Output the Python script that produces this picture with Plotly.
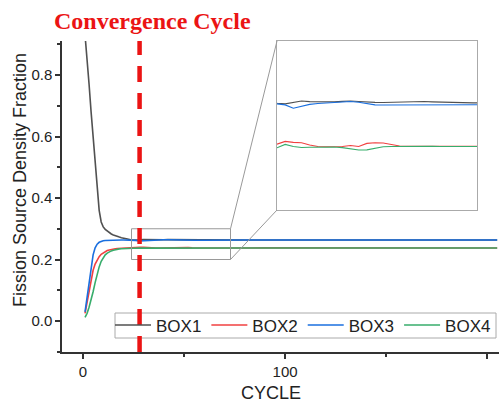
import plotly.graph_objects as go

# ---------------- data ----------------
CYCLES = list(range(1, 21)) + list(range(22, 75, 2)) + list(range(80, 201, 10)) + [205]

BOX1 = [0.93, 0.86, 0.77, 0.68, 0.60, 0.52, 0.43, 0.36, 0.322, 0.306,
        0.298, 0.292, 0.287, 0.283, 0.280, 0.277, 0.275, 0.273, 0.271, 0.270,
        0.2665, 0.2632, 0.2628, 0.2638, 0.2645, 0.2641, 0.2640, 0.2638, 0.2640, 0.2643,
        0.2645, 0.2642, 0.2638, 0.2637, 0.2636, 0.2638, 0.2640, 0.2641, 0.2640, 0.2642,
        0.2640, 0.2638, 0.2637, 0.2635, 0.2634, 0.2634, 0.2634,
        0.2634, 0.2633, 0.2635, 0.2634, 0.2632, 0.2633, 0.2634, 0.2633, 0.2632, 0.2633,
        0.2634, 0.2633, 0.2633, 0.2633]

BOX2 = [0.025, 0.060, 0.100, 0.135, 0.165, 0.185, 0.199, 0.209, 0.217, 0.222,
        0.226, 0.229, 0.231, 0.233, 0.234, 0.235, 0.236, 0.2365, 0.237, 0.2375,
        0.2382, 0.2390, 0.2406, 0.2400, 0.2398, 0.2385, 0.2376, 0.2374, 0.2373, 0.2376,
        0.2382, 0.2376, 0.2394, 0.2398, 0.2396, 0.2386, 0.2379, 0.2377, 0.2377, 0.2377,
        0.2377, 0.2376, 0.2374, 0.2373, 0.2373, 0.2373, 0.2373,
        0.2374, 0.2378, 0.2376, 0.2375, 0.2374, 0.2375, 0.2376, 0.2375, 0.2374, 0.2375,
        0.2375, 0.2374, 0.2375, 0.2375]

BOX3 = [0.030, 0.075, 0.125, 0.175, 0.215, 0.238, 0.250, 0.256, 0.259, 0.261,
        0.262, 0.2625, 0.263, 0.263, 0.2632, 0.2633, 0.2634, 0.2634, 0.2635, 0.2635,
        0.2634, 0.2630, 0.2622, 0.2602, 0.2612, 0.2625, 0.2630, 0.2634, 0.2638, 0.2641,
        0.2642, 0.2638, 0.2628, 0.2622, 0.2621, 0.2622, 0.2624, 0.2626, 0.2628, 0.2630,
        0.2630, 0.2630, 0.2631, 0.2632, 0.2633, 0.2633, 0.2633,
        0.2633, 0.2634, 0.2633, 0.2632, 0.2633, 0.2634, 0.2633, 0.2633, 0.2632, 0.2633,
        0.2634, 0.2633, 0.2633, 0.2633]

BOX4 = [0.012, 0.025, 0.045, 0.068, 0.095, 0.125, 0.152, 0.176, 0.194, 0.207,
        0.215, 0.221, 0.225, 0.228, 0.230, 0.232, 0.2335, 0.2345, 0.235, 0.2355,
        0.2362, 0.2368, 0.2388, 0.2376, 0.2370, 0.2371, 0.2373, 0.2373, 0.2373, 0.2369,
        0.2363, 0.2355, 0.2356, 0.2366, 0.2374, 0.2376, 0.2377, 0.2377, 0.2376, 0.2377,
        0.2377, 0.2376, 0.2377, 0.2377, 0.2377, 0.2377, 0.2377,
        0.2376, 0.2375, 0.2374, 0.2375, 0.2375, 0.2374, 0.2375, 0.2375, 0.2374, 0.2375,
        0.2375, 0.2374, 0.2375, 0.2375]

SERIES_NAMES = ["BOX1", "BOX2", "BOX3", "BOX4"]
SERIES_VALUES = [BOX1, BOX2, BOX3, BOX4]
COLORS = ["#515151", "#F14040", "#1A6FDF", "#37AD6B"]

CONVERGENCE_CYCLE = 28
ZOOM_X = [24, 73]
ZOOM_Y = [0.2, 0.3]

X_RANGE = [-10.4, 205.9]
Y_RANGE = [-0.1008, 0.9106]
INSET_DOM_X = [0.492, 0.950]
INSET_DOM_Y = [0.4566, 1.0]

TITLE_TEXT = "Convergence Cycle"
X_TITLE = "CYCLE"
Y_TITLE = "Fission Source Density Fraction"

# ---------------- layout helpers (pixels -> paper) ----------------
W, H = 499, 405
ML, MR, MT, MB = 62, 0, 41, 53
PW, PH = W - ML - MR, H - MT - MB


def px_x(px):
    return (px - ML) / PW


def px_y(py):
    return (H - MB - py) / PH


# ---------------- figure ----------------
fig = go.Figure()

for name, vals, col in zip(SERIES_NAMES, SERIES_VALUES, COLORS):
    fig.add_trace(go.Scatter(x=CYCLES, y=vals, mode="lines", name=name,
                             line=dict(color=col, width=1.6),
                             xaxis="x", yaxis="y"))

for name, vals, col in zip(SERIES_NAMES, SERIES_VALUES, COLORS):
    fig.add_trace(go.Scatter(x=CYCLES, y=vals, mode="lines", name=name,
                             line=dict(color=col, width=1.1),
                             xaxis="x2", yaxis="y2", showlegend=False))

axis_col = "#333333"
text_col = "#222222"
tick_font = dict(family="Liberation Sans, Arial", size=15, color=text_col)

fig.update_layout(
    width=W, height=H,
    margin=dict(l=ML, r=MR, t=MT, b=MB, autoexpand=False),
    paper_bgcolor="white", plot_bgcolor="white",
    font=dict(family="Liberation Sans, Arial", color=text_col),
    xaxis=dict(range=X_RANGE, showline=True, linecolor=axis_col, linewidth=1.5,
               ticks="outside", ticklen=5, tickwidth=1.5, tickcolor=axis_col,
               tick0=0, dtick=100, showgrid=False, zeroline=False, automargin=False,
               minor=dict(dtick=50, tick0=0, ticks="outside", ticklen=3, tickwidth=1.5, tickcolor=axis_col),
               tickfont=tick_font),
    yaxis=dict(range=Y_RANGE, showline=True, linecolor=axis_col, linewidth=1.5,
               ticks="outside", ticklen=5, tickwidth=1.5, tickcolor=axis_col,
               tick0=0, dtick=0.2, tickformat=".1f", showgrid=False, zeroline=False, automargin=False,
               minor=dict(dtick=0.1, tick0=0, ticks="outside", ticklen=3, tickwidth=1.5, tickcolor=axis_col),
               tickfont=tick_font),
    xaxis2=dict(domain=INSET_DOM_X, anchor="y2", range=ZOOM_X, showline=True, mirror=True,
                linecolor="#aaaaaa", linewidth=1, ticks="", showticklabels=False,
                showgrid=False, zeroline=False),
    yaxis2=dict(domain=INSET_DOM_Y, anchor="x2", range=ZOOM_Y, showline=True, mirror=True,
                linecolor="#aaaaaa", linewidth=1, ticks="", showticklabels=False,
                showgrid=False, zeroline=False),
    legend=dict(orientation="h", x=px_x(110), y=px_y(307.5), xanchor="left", yanchor="top",
                bgcolor="rgba(0,0,0,0)", borderwidth=0,
                font=dict(size=17, color=text_col), itemwidth=36, tracegroupgap=0),
    showlegend=True,
)

# legend frame
fig.add_shape(type="rect", xref="paper", yref="paper", x0=px_x(115), x1=px_x(496),
              y0=px_y(338), y1=px_y(313), line=dict(color="#aaaaaa", width=1), layer="above")

# zoom rectangle + connectors (computed from axis ranges / inset domain)
inset_left = X_RANGE[0] + INSET_DOM_X[0] * (X_RANGE[1] - X_RANGE[0])
inset_top = Y_RANGE[0] + INSET_DOM_Y[1] * (Y_RANGE[1] - Y_RANGE[0])
inset_bottom = Y_RANGE[0] + INSET_DOM_Y[0] * (Y_RANGE[1] - Y_RANGE[0])

fig.add_shape(type="rect", xref="x", yref="y", x0=ZOOM_X[0], x1=ZOOM_X[1],
              y0=ZOOM_Y[0], y1=ZOOM_Y[1], line=dict(color="#999999", width=1), layer="above")
fig.add_shape(type="line", xref="x", yref="y", x0=ZOOM_X[1], y0=ZOOM_Y[1],
              x1=inset_left, y1=inset_top, line=dict(color="#999999", width=1))
fig.add_shape(type="line", xref="x", yref="y", x0=ZOOM_X[1], y0=ZOOM_Y[0],
              x1=inset_left, y1=inset_bottom, line=dict(color="#999999", width=1))

# convergence line
fig.add_shape(type="line", xref="x", yref="paper", x0=CONVERGENCE_CYCLE, x1=CONVERGENCE_CYCLE,
              y0=0, y1=1, line=dict(color="rgb(235,20,20)", width=4.5, dash="16px,11px"),
              layer="above")

# titles
fig.add_annotation(text=TITLE_TEXT, xref="paper", yref="paper",
                   x=px_x(152.5), y=px_y(20.5), xanchor="center", yanchor="middle",
                   showarrow=False,
                   font=dict(family="Liberation Serif, Times New Roman", size=24,
                             color="rgb(235,20,20)", weight="bold"))
fig.add_annotation(text=X_TITLE, xref="paper", yref="paper",
                   x=px_x(271), y=px_y(393), xanchor="center", yanchor="middle",
                   showarrow=False, font=dict(size=18, color=text_col))
fig.add_annotation(text=Y_TITLE, xref="paper", yref="paper", textangle=-90,
                   x=px_x(20), y=px_y(180), xanchor="center", yanchor="middle",
                   showarrow=False, font=dict(size=18, color=text_col))

fig.write_html("out.html")
